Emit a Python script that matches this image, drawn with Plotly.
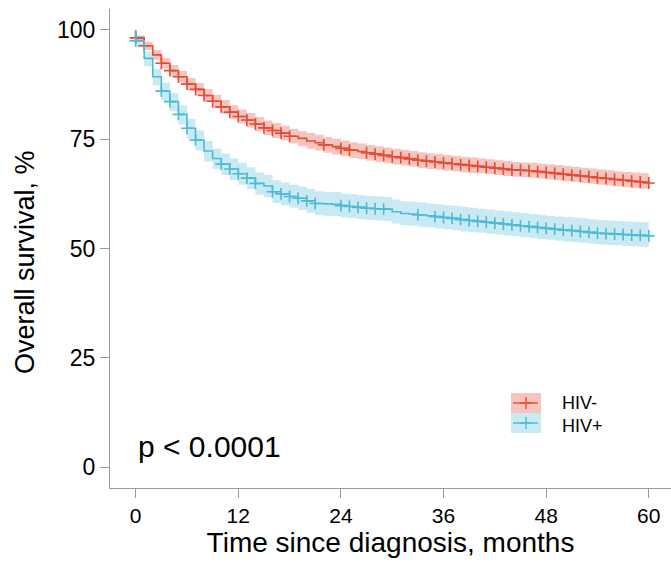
import plotly.graph_objects as go

# ---------------- data ----------------
months = list(range(0, 61))

hivneg_surv = [98.2, 96.4, 94.3, 92.4, 90.7, 89.3, 87.6, 86.4, 85.0, 83.7,
               82.4, 81.2, 80.2, 79.4, 78.5, 77.6, 77.0, 76.4, 75.7, 75.2,
               74.6, 74.2, 73.7, 73.3, 72.9, 72.5, 72.2, 71.9, 71.6, 71.3,
               71.0, 70.8, 70.5, 70.2, 70.0, 69.8, 69.6, 69.4, 69.2, 69.0,
               68.8, 68.6, 68.4, 68.2, 68.0, 67.9, 67.8, 67.6, 67.4, 67.2,
               67.0, 66.8, 66.6, 66.4, 66.2, 66.0, 65.8, 65.6, 65.4, 65.2,
               65.0]
hivneg_upper = [98.8, 97.3, 95.4, 93.6, 92.0, 90.6, 89.0, 87.8, 86.5, 85.2,
                84.0, 82.8, 81.8, 81.0, 80.1, 79.3, 78.7, 78.1, 77.4, 76.9,
                76.4, 76.0, 75.5, 75.1, 74.7, 74.3, 74.0, 73.7, 73.4, 73.1,
                72.8, 72.6, 72.3, 72.0, 71.8, 71.6, 71.4, 71.2, 71.0, 70.8,
                70.6, 70.4, 70.2, 70.0, 69.8, 69.7, 69.6, 69.4, 69.3, 69.1,
                68.9, 68.7, 68.5, 68.3, 68.1, 67.9, 67.7, 67.5, 67.4, 67.2,
                67.1]
hivneg_lower = [97.5, 95.4, 93.2, 91.2, 89.4, 87.9, 86.2, 84.9, 83.5, 82.1,
                80.8, 79.6, 78.6, 77.7, 76.8, 75.9, 75.3, 74.7, 74.0, 73.4,
                72.8, 72.4, 71.9, 71.5, 71.1, 70.7, 70.4, 70.1, 69.8, 69.5,
                69.2, 69.0, 68.7, 68.4, 68.2, 68.0, 67.8, 67.6, 67.4, 67.2,
                67.2, 67.0, 66.8, 66.6, 66.4, 66.3, 66.2, 66.0, 65.8, 65.6,
                65.4, 65.2, 65.0, 64.8, 64.6, 64.4, 64.2, 64.0, 63.8, 63.6,
                63.4]
hivneg_censored = [0, 1, 3, 4, 5, 6, 7, 8, 9, 10, 11, 12, 13, 14, 15, 16, 17, 18,
                   22, 24, 25, 27, 28, 29, 30, 31, 32, 33, 34, 35, 36, 37, 38,
                   39, 40, 41, 42, 43, 44, 45, 46, 47, 48, 49, 50, 51, 52, 53,
                   54, 55, 56, 57, 58, 59, 60]

hivpos_surv = [97.5, 93.5, 89.3, 86.0, 83.6, 80.7, 77.5, 74.8, 72.3, 70.6,
               69.3, 68.2, 67.1, 66.1, 64.9, 64.3, 63.0, 62.5, 61.9, 61.5,
               60.9, 60.3, 60.2, 60.1, 59.8, 59.6, 59.4, 59.2, 59.1, 59.0,
               58.4, 58.0, 57.9, 57.7, 57.5, 57.3, 57.1, 56.9, 56.6, 56.4,
               56.2, 56.0, 55.8, 55.6, 55.4, 55.2, 55.0, 54.8, 54.6, 54.4,
               54.2, 54.1, 53.9, 53.7, 53.5, 53.4, 53.3, 53.2, 53.1, 53.0,
               52.9]
hivpos_upper = [98.6, 95.1, 91.1, 88.0, 85.6, 82.8, 79.7, 77.0, 74.6, 72.9,
                71.7, 70.6, 69.6, 68.6, 67.4, 66.9, 65.6, 65.1, 64.6, 64.2,
                63.6, 63.1, 63.0, 62.9, 62.6, 62.4, 62.2, 62.0, 61.9, 61.8,
                61.2, 60.8, 60.7, 60.5, 60.3, 60.1, 59.9, 59.8, 59.5, 59.3,
                59.1, 58.9, 58.7, 58.5, 58.3, 58.1, 57.9, 57.7, 57.5, 57.3,
                57.2, 57.1, 56.9, 56.7, 56.5, 56.4, 56.3, 56.2, 56.1, 56.0,
                56.0]
hivpos_lower = [96.0, 91.7, 87.3, 83.8, 81.4, 78.4, 75.1, 72.4, 69.9, 68.2,
                66.8, 65.7, 64.6, 63.6, 62.3, 61.7, 60.4, 59.9, 59.3, 58.8,
                58.2, 57.6, 57.5, 57.4, 57.1, 56.9, 56.7, 56.5, 56.4, 56.3,
                55.7, 55.3, 55.2, 55.0, 54.8, 54.6, 54.4, 54.2, 53.9, 53.7,
                53.6, 53.4, 53.2, 53.0, 52.8, 52.6, 52.4, 52.2, 52.0, 51.8,
                51.6, 51.5, 51.3, 51.1, 50.9, 50.8, 50.7, 50.6, 50.5, 50.4,
                50.3]
hivpos_censored = [0, 3, 4, 5, 6, 7, 10, 11, 12, 13, 14, 16, 17, 18, 19, 20, 21,
                   24, 25, 26, 27, 28, 29, 33, 35, 36, 37, 38, 39, 40, 41, 42,
                   43, 44, 45, 46, 47, 48, 49, 50, 51, 52, 53, 54, 55, 56, 57,
                   58, 59, 60]

group_names = ["HIV-", "HIV+"]
x_ticks = [0, 12, 24, 36, 48, 60]
y_ticks = [0, 25, 50, 75, 100]
p_text = "p < 0.0001"
x_title = "Time since diagnosis, months"
y_title = "Overall survival, %"

# ---------------- styling ----------------
FONT = "Liberation Sans, Arial, sans-serif"
line_colors = ["#E64B35", "#4DBBD5"]
fill_colors = ["rgba(230,75,53,0.32)", "rgba(77,187,213,0.30)"]
AXIS_GRAY = "#9a9a9a"

W, H = 671, 562
ML, MR, MT, MB = 110, 0, 9, 74
PW, PH = W - ML - MR, H - MT - MB


def px(x):
    return (x - ML) / PW


def py(y):
    return (H - MB - y) / PH


groups = [
    (hivneg_surv, hivneg_lower, hivneg_upper, hivneg_censored),
    (hivpos_surv, hivpos_lower, hivpos_upper, hivpos_censored),
]

fig = go.Figure()

# confidence bands
for i, (surv, lo, up, cens) in enumerate(groups):
    fig.add_trace(go.Scatter(x=months, y=lo, mode="lines", line=dict(width=0, shape="hv"),
                             showlegend=False, hoverinfo="skip"))
    fig.add_trace(go.Scatter(x=months, y=up, mode="lines", line=dict(width=0, shape="hv"),
                             fill="tonexty", fillcolor=fill_colors[i],
                             showlegend=False, hoverinfo="skip"))

# survival curves + censor marks
for i, (surv, lo, up, cens) in enumerate(groups):
    fig.add_trace(go.Scatter(x=[0] + months, y=[100] + surv, mode="lines",
                             line=dict(color=line_colors[i], width=1.6, shape="hv"),
                             name=group_names[i], showlegend=False))
    cy = [surv[months.index(c)] for c in cens]
    fig.add_trace(go.Scatter(x=cens, y=cy, mode="markers",
                             marker=dict(symbol="cross-thin", size=8.5,
                                         line=dict(color=line_colors[i], width=1.6)),
                             showlegend=False, hoverinfo="skip"))

# manual legend (paper coordinates via hidden overlay axes)
legend_rows = [403, 423]
for i, name in enumerate(group_names):
    yc = legend_rows[i]
    fig.add_shape(type="rect", xref="paper", yref="paper",
                  x0=px(511), x1=px(541), y0=py(yc + 10), y1=py(yc - 10),
                  fillcolor=fill_colors[i], line=dict(width=0), layer="below")
    fig.add_trace(go.Scatter(x=[px(513), px(538)], y=[py(yc), py(yc)], xaxis="x2", yaxis="y2",
                             mode="lines", line=dict(color=line_colors[i], width=1.4),
                             showlegend=False, hoverinfo="skip"))
    fig.add_trace(go.Scatter(x=[px(526)], y=[py(yc)], xaxis="x2", yaxis="y2",
                             mode="markers",
                             marker=dict(symbol="cross-thin", size=8.5,
                                         line=dict(color=line_colors[i], width=1.4)),
                             showlegend=False, hoverinfo="skip"))

# legend labels in one block (line spacing close to the reference)
fig.add_annotation(text="<br>".join(group_names), xref="paper", yref="paper",
                   x=px(560), y=py(414), xanchor="left", yanchor="middle", align="left",
                   showarrow=False, font=dict(family=FONT, size=18, color="black"))

fig.add_annotation(text=p_text, xref="paper", yref="paper", x=px(136), y=py(446),
                   xanchor="left", yanchor="middle", showarrow=False,
                   font=dict(family=FONT, size=30, color="black"))

# y-axis title
fig.add_annotation(text=y_title, xref="paper", yref="paper", x=px(25), y=py(262),
                   xanchor="center", yanchor="middle", textangle=-90, showarrow=False,
                   font=dict(family=FONT, size=27, color="black"))

fig.update_layout(
    width=W, height=H,
    margin=dict(l=ML, r=MR, t=MT, b=MB, autoexpand=False),
    paper_bgcolor="white", plot_bgcolor="white",
    font=dict(family=FONT, color="black"),
    showlegend=False,
    xaxis=dict(
        range=[-3.0, 62.6], tickvals=x_ticks, ticktext=[str(v) for v in x_ticks],
        showgrid=False, zeroline=False, showline=True, linecolor=AXIS_GRAY, linewidth=1.2,
        ticks="outside", ticklen=9, tickcolor=AXIS_GRAY, tickwidth=1.2,
        tickfont=dict(family=FONT, size=21, color="black"),
        title=dict(text=x_title, standoff=5,
                   font=dict(family=FONT, size=28, color="black")),
        automargin=False,
    ),
    yaxis=dict(
        range=[-4.8, 104.8], tickvals=y_ticks, ticktext=[str(v) for v in y_ticks],
        showgrid=False, zeroline=False, showline=True, linecolor=AXIS_GRAY, linewidth=1.2,
        ticks="outside", ticklen=9, tickcolor=AXIS_GRAY, tickwidth=1.2,
        tickfont=dict(family=FONT, size=23, color="black"),
        automargin=False,
    ),
    xaxis2=dict(domain=[0, 1], range=[0, 1], overlaying="x", visible=False, anchor="y2"),
    yaxis2=dict(domain=[0, 1], range=[0, 1], overlaying="y", visible=False, anchor="x2"),
)

fig.write_html("out.html")
